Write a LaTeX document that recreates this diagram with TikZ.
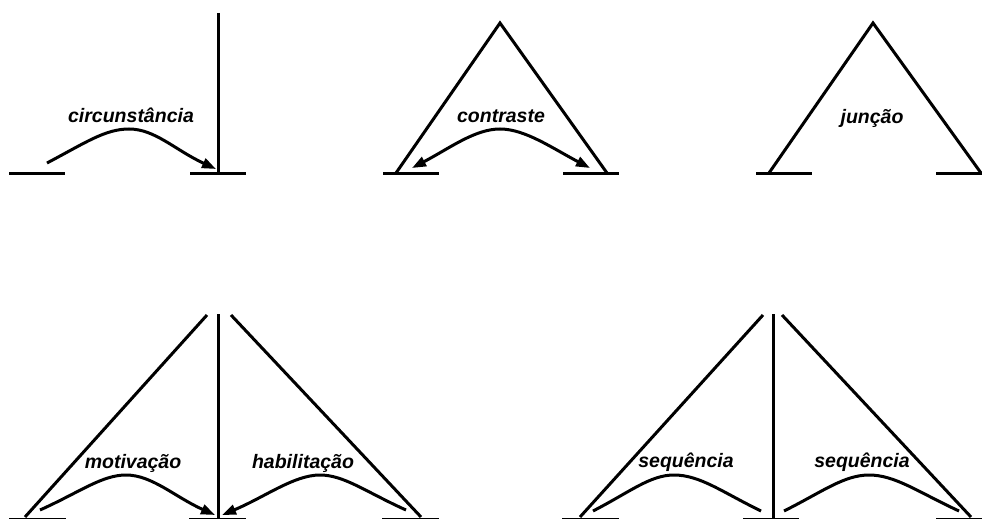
\documentclass[tikz,border=0pt]{standalone}
\usepackage{fontspec}
\setmainfont{Liberation Sans}
\usetikzlibrary{arrows.meta}
\tikzset{
  ln/.style={line width=3pt, line cap=butt},
  arc/.style={line width=3pt},
  tip/.tip={Triangle[length=14pt,width=10pt]},
  arr/.style={arc, -tip},
  lbl/.style={font=\fontsize{19.5}{22}\selectfont\bfseries\itshape, anchor=base, inner sep=0pt},
}
\begin{document}
\begin{tikzpicture}[x=1pt,y=-1pt]
\useasboundingbox (0,0) rectangle (982,519);
% ---------- circunstancia ----------
\coordinate (a1) at (9,173); \coordinate (a2) at (65,173);
\coordinate (b1) at (190,173); \coordinate (b2) at (246,173);
\coordinate (vt) at (218,13); \coordinate (vb) at (218,174.5);
\draw[ln] (a1) -- (a2);
\draw[ln] (b1) -- (b2);
\draw[ln] (vt) -- (vb);
\coordinate (cs) at (47,163); \coordinate (cp) at (129,129); \coordinate (ce) at (216,169);
\draw[arr] (cs) .. controls (85,143) and (105,129) .. (cp) .. controls (155,129) and (175,150) .. (ce);
\node[lbl] (lcirc) at (131,122) {circunstância};
% ---------- contraste ----------
\coordinate (ka) at (500,23); \coordinate (kl) at (396,173); \coordinate (kr) at (607,173);
\coordinate (k1) at (383,173); \coordinate (k2) at (439,173);
\coordinate (k3) at (563,173); \coordinate (k4) at (619,173);
\draw[ln] (k1) -- (k2);
\draw[ln] (k3) -- (k4);
\draw[ln, line join=miter] (kl) -- (ka) -- (kr);
\coordinate (kp) at (500,129); \coordinate (ks) at (412,168); \coordinate (ke) at (590,168);
\draw[arc, tip-tip] (ks) .. controls (450,148) and (475,129) .. (kp) .. controls (525,129) and (552,148) .. (ke);
\node[lbl] (lcont) at (501,122) {contraste};
% ---------- juncao ----------
\coordinate (ja) at (873,23); \coordinate (jl) at (769,173); \coordinate (jr) at (981,173);
\coordinate (j1) at (756,173); \coordinate (j2) at (812,173);
\coordinate (j3) at (936,173); \coordinate (j4) at (982,173);
\draw[ln] (j1) -- (j2);
\draw[ln] (j3) -- (j4);
\draw[ln, line join=miter] (jl) -- (ja) -- (jr);
\node[lbl] (ljun) at (872,123) {junção};
% ---------- motivacao / habilitacao ----------
\coordinate (m1) at (9,519); \coordinate (m2) at (66,519);
\coordinate (m3) at (189,519); \coordinate (m4) at (246,519);
\coordinate (m5) at (382,519); \coordinate (m6) at (439,519);
\draw[ln] (m1) -- (m2);
\draw[ln] (m3) -- (m4);
\draw[ln] (m5) -- (m6);
\coordinate (mvt) at (218,314); \coordinate (mvb) at (218,521);
\draw[ln] (mvt) -- (mvb);
\coordinate (mlt) at (207,315); \coordinate (mlb) at (25,517);
\coordinate (mrt) at (231,315); \coordinate (mrb) at (421,517);
\draw[ln] (mlt) -- (mlb);
\draw[ln] (mrt) -- (mrb);
\coordinate (ms) at (40,510); \coordinate (mp) at (126,475); \coordinate (me) at (215,515);
\draw[arr] (ms) .. controls (80,492) and (102,475) .. (mp) .. controls (152,475) and (175,497) .. (me);
\coordinate (hs) at (406,510); \coordinate (hp) at (320,475); \coordinate (he) at (222,515);
\draw[arr] (hs) .. controls (366,492) and (344,475) .. (hp) .. controls (294,475) and (265,497) .. (he);
\node[lbl] (lmot) at (133,468) {motivação};
\node[lbl] (lhab) at (303,468) {habilitação};
% ---------- sequencia ----------
\coordinate (s1) at (562,519); \coordinate (s2) at (619,519);
\coordinate (s3) at (743,519); \coordinate (s4) at (799,519);
\coordinate (s5) at (936,519); \coordinate (s6) at (982,519);
\draw[ln] (s1) -- (s2);
\draw[ln] (s3) -- (s4);
\draw[ln] (s5) -- (s6);
\coordinate (svt) at (773,314); \coordinate (svb) at (773,521);
\draw[ln] (svt) -- (svb);
\coordinate (slt) at (763,315); \coordinate (slb) at (580,517);
\coordinate (srt) at (782,315); \coordinate (srb) at (971,517);
\draw[ln] (slt) -- (slb);
\draw[ln] (srt) -- (srb);
\coordinate (qs) at (593,511); \coordinate (qp) at (674,475); \coordinate (qe) at (761,511);
\draw[arc] (qs) .. controls (630,492) and (650,475) .. (qp) .. controls (700,475) and (722,492) .. (qe);
\coordinate (rs) at (784,511); \coordinate (rp) at (869,475); \coordinate (re) at (959,511);
\draw[arc] (rs) .. controls (822,492) and (844,475) .. (rp) .. controls (895,475) and (918,492) .. (re);
\node[lbl] (lseq1) at (686,467) {sequência};
\node[lbl] (lseq2) at (862,467) {sequência};
\end{tikzpicture}
\end{document}
